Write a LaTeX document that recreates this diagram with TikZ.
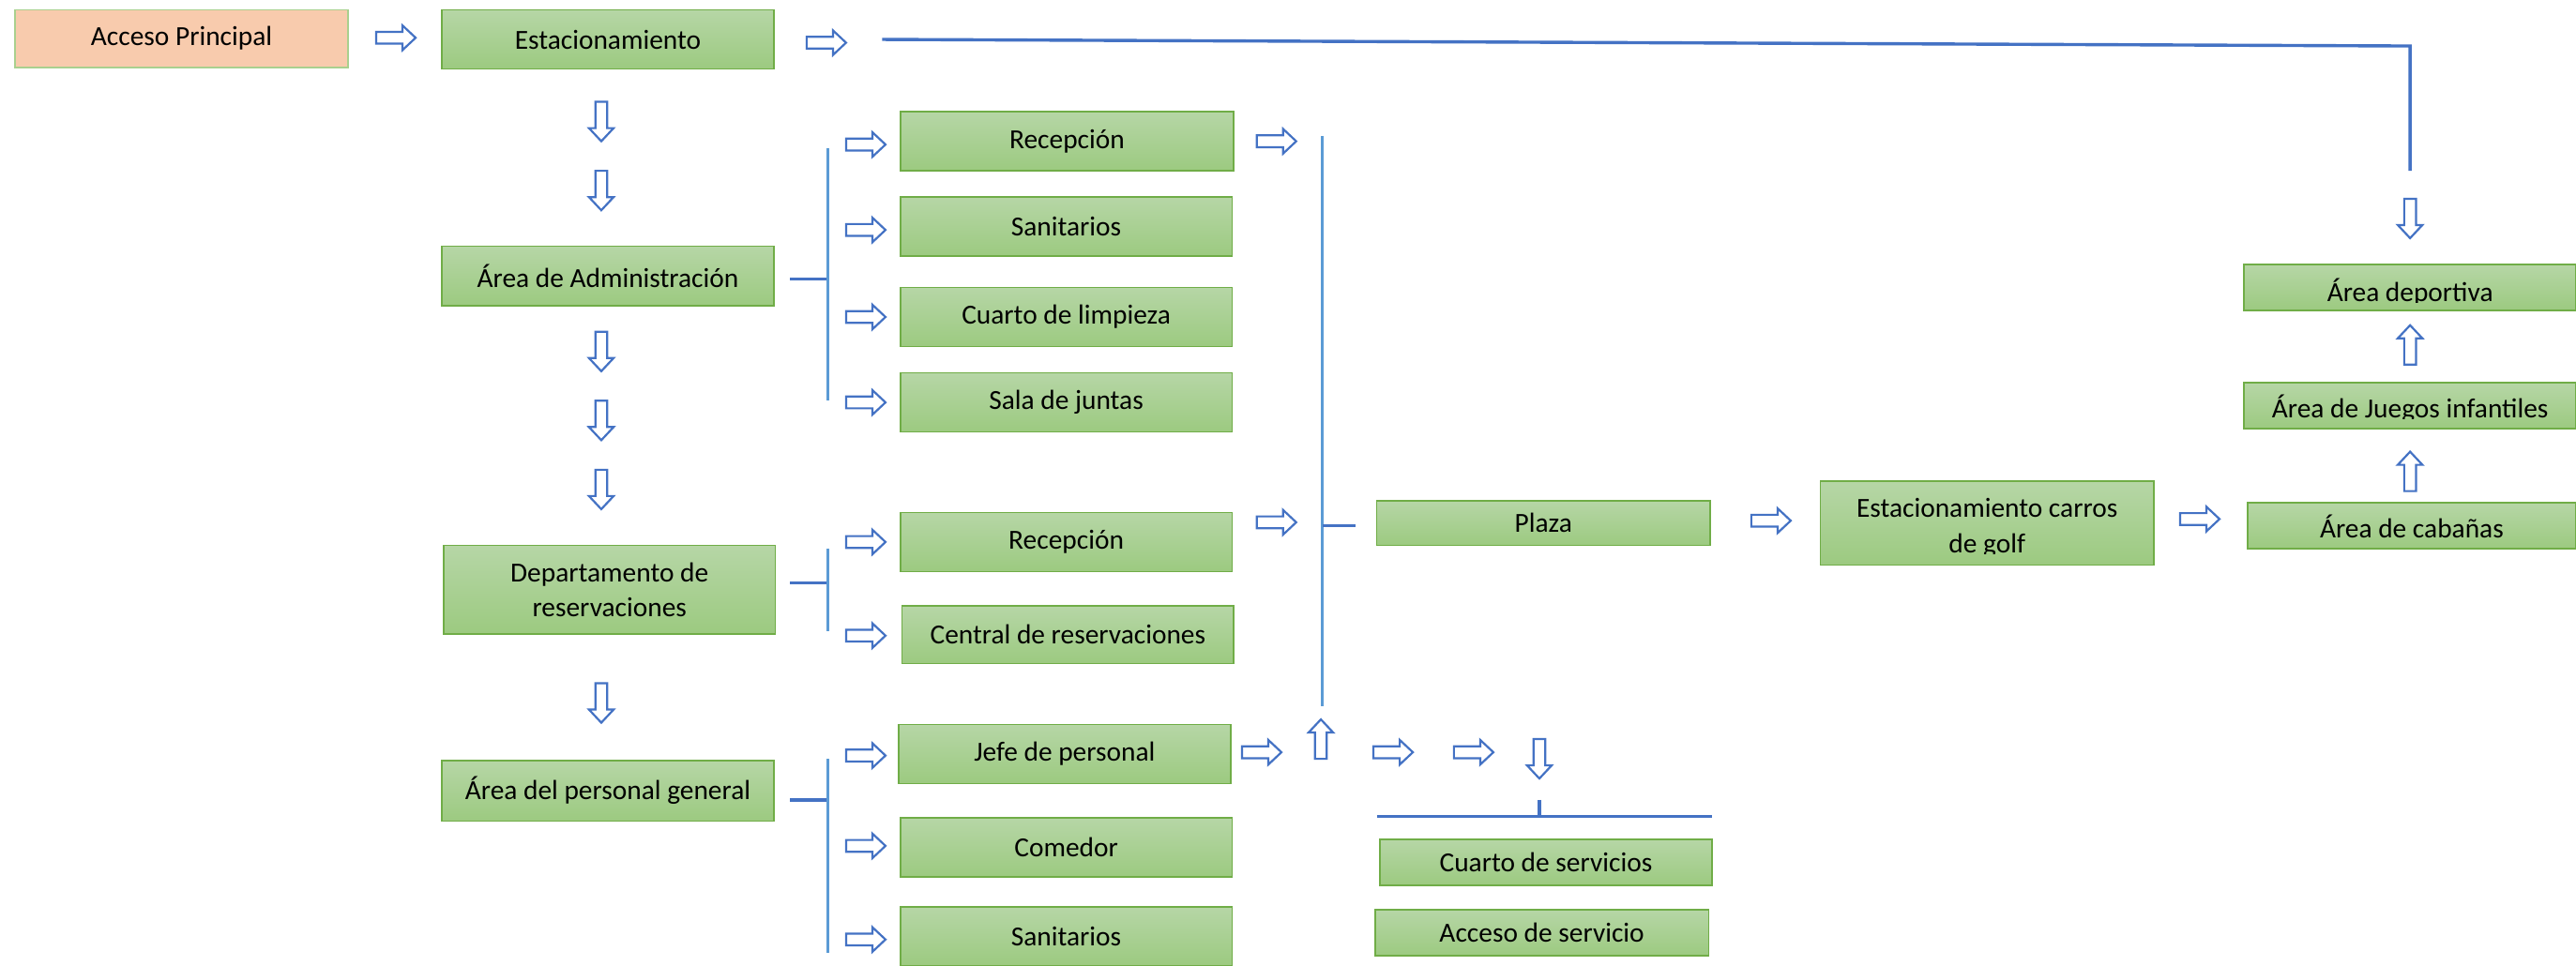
\documentclass[tikz,border=0pt]{standalone}
\usepackage{fontspec}
\setmainfont{Carlito}
\usetikzlibrary{fit}
\definecolor{gtop}{HTML}{B6D6A6}
\definecolor{gbot}{HTML}{9CCA80}
\definecolor{boxline}{HTML}{70AD47}
\definecolor{peach}{HTML}{F8CBAD}
\definecolor{peachline}{HTML}{A9D08E}
\definecolor{arrowblue}{HTML}{4472C4}
\definecolor{lineblue}{HTML}{5B9BD5}
\tikzset{
  box/.style={draw=boxline, line width=0.8pt, top color=gtop, bottom color=gbot, inner sep=0pt},
  pbox/.style={draw=peachline, line width=0.8pt, fill=peach, inner sep=0pt},
  lbl/.style={inner sep=0pt, font=\fontsize{14.7}{18.6}\selectfont, align=center},
  arrowline/.style={draw=arrowblue, line width=1.1pt, fill=white, line join=miter},
  darkline/.style={draw=arrowblue, line width=1.7pt},
  lightline/.style={draw=lineblue, line width=1.7pt},
  barrow/.pic={\draw[arrowline] (-12,-3.6) -- (4,-3.6) -- (4,-7.5) -- (12,0) -- (4,7.5) -- (4,3.6) -- (-12,3.6) -- cycle;}
}
\newcommand\gbox[6]{\node[box, fit={(#2,#3) (#4,#5)}] (#1) {};
  \node[lbl] (#1t) at (#1.center) {#6};}
% clipped box: name, x1, y1, x2, y2, baseline, text  (clip at baseline+1)
\newcommand\cbox[7]{%
  \node[box, fit={(#2,#3) (#4,#5)}] (#1) {};
  \begin{scope}
    \clip (#2,#3) rectangle (#4,#6+0.6);
    \node[lbl, anchor=base] (#1t) at ({(#2+#4)/2},#6) {#7};
  \end{scope}}
\begin{document}
\begin{tikzpicture}[x=0.8757pt,y=-0.8757pt]
\useasboundingbox[fill=white] (0,0) rectangle (1568,588);

% top row
\node[pbox, fit={(9,6) (212,41)}] (acceso) {};
\node[lbl] (accesot) at (acceso.center) {Acceso Principal};
\gbox{estac}{269}{6}{471}{42}{Estacionamiento}

% left column
\gbox{admin}{269}{150}{471}{186}{Área de Administración}
\gbox{depto}{270}{332}{472}{386}{Departamento de\\reservaciones}
\gbox{personal}{269}{463}{471}{500}{Área del personal general}

% admin children
\gbox{recep1}{548}{68}{751}{104}{Recepción}
\gbox{sanit1}{548}{120}{750}{156}{Sanitarios}
\gbox{limp}{548}{175}{750}{211}{Cuarto de limpieza}
\gbox{sala}{548}{227}{750}{263}{Sala de juntas}

% reservaciones children
\gbox{recep2}{548}{312}{750}{348}{Recepción}
\gbox{central}{549}{369}{751}{404}{Central de reservaciones}

% personal children
\gbox{jefe}{547}{441}{749}{477}{Jefe de personal}
\gbox{comedor}{548}{498}{750}{534}{Comedor}
\gbox{sanit2}{548}{552}{750}{588}{Sanitarios}

% middle / right
\gbox{plaza}{838}{305}{1041}{332}{Plaza}
\node[box, fit={(1108,293) (1311,344)}] (golf) {};
\begin{scope}
  \clip (1108,293) rectangle (1311,337.4);
  \node[lbl, anchor=base] (golft1) at (1209.5,315) {Estacionamiento carros};
  \node[lbl, anchor=base] (golft2) at (1209.5,336.8) {de golf};
\end{scope}
\cbox{cabanas}{1368}{306}{1568}{334}{327.4}{Área de cabañas}
\cbox{juegos}{1366}{233}{1568}{261}{254.2}{Área de Juegos infantiles}
\cbox{deport}{1366}{161}{1568}{189}{183.3}{Área deportiva}
\gbox{cuarto}{840}{511}{1042}{539}{Cuarto de servicios}
\gbox{accserv}{837}{554}{1040}{582}{Acceso de servicio}

% lines
\coordinate (topA) at (537,24);
\coordinate (topB) at (1467,28);
\coordinate (topC) at (1467,104);
\draw[darkline] (topA) -- (topB) -- (topC);

\coordinate (adA) at (481,170); \coordinate (adB) at (504,170);
\coordinate (adT) at (504,90); \coordinate (adU) at (504,244);
\draw[darkline] (adA) -- (adB);
\draw[lightline] (adT) -- (adU);

\coordinate (reA) at (481,355); \coordinate (reB) at (504,355);
\coordinate (reT) at (504,334); \coordinate (reU) at (504,384);
\draw[darkline] (reA) -- (reB);
\draw[lightline] (reT) -- (reU);

\coordinate (peA) at (481,487); \coordinate (peB) at (504,487);
\coordinate (peT) at (504,462); \coordinate (peU) at (504,580);
\draw[darkline] (peA) -- (peB);
\draw[lightline] (peT) -- (peU);

\coordinate (plT) at (805,83); \coordinate (plU) at (805,430);
\coordinate (plM) at (805,320); \coordinate (plN) at (825,320);
\draw[lightline] (plT) -- (plU);
\draw[darkline] (plM) -- (plN);

\coordinate (svT) at (937,487); \coordinate (svM) at (937,497);
\coordinate (svL) at (838,497); \coordinate (svR) at (1042,497);
\draw[darkline] (svT) -- (svM);
\draw[darkline] (svL) -- (svR);

% right arrows
\foreach \p in {(241,23),(503,26),(527,88),(527,140),(527,193),(527,245),(777,86),(527,330),(527,387),(777,318),(527,460),(527,515),(527,572),(768,458),(848,458),(897,458),(1078,317),(1339,316)}
  \pic at \p {barrow};
% down arrows
\foreach \p in {(366,74),(366,116),(366,214),(366,256),(366,298),(366,428),(937,462),(1467,133)}
  \pic[rotate=-90] at \p {barrow};
% up arrows
\foreach \p in {(804,450),(1467,210),(1467,287)}
  \pic[rotate=90] at \p {barrow};
\end{tikzpicture}
\end{document}
